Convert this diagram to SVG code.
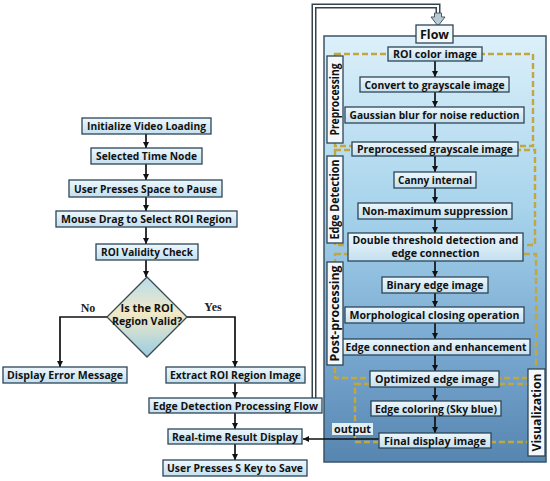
<svg xmlns="http://www.w3.org/2000/svg" width="550" height="481" viewBox="0 0 550 481">
<defs>
<linearGradient id="gBox" x1="0" y1="0" x2="0" y2="1"><stop offset="0" stop-color="#eef7fc"/><stop offset="1" stop-color="#c4e0ef"/></linearGradient>
<linearGradient id="gCont" x1="0" y1="0" x2="0" y2="1"><stop offset="0" stop-color="#dcf0fa"/><stop offset="0.4" stop-color="#a8d4ec"/><stop offset="0.72" stop-color="#7aaad2"/><stop offset="1" stop-color="#5686b0"/></linearGradient>
<linearGradient id="gDia" x1="0" y1="0" x2="0" y2="1"><stop offset="0" stop-color="#b8dcec"/><stop offset="0.45" stop-color="#f3e9c6"/><stop offset="1" stop-color="#98cde4"/></linearGradient>
<marker id="ah" viewBox="0 0 10 10" refX="10" refY="5" markerWidth="6" markerHeight="6" markerUnits="userSpaceOnUse" orient="auto"><path d="M0,0 L10,5 L0,10 Z" fill="#111"/></marker>
</defs>
<style>
.box{fill:url(#gBox);stroke:#2c4658;stroke-width:1.3}
.lab{fill:#f4f8fa;stroke:#2c4658;stroke-width:1.3}
.t{font-family:"Open Sans","DejaVu Sans",sans-serif;font-weight:bold;font-size:11px;fill:#111;text-anchor:middle}
.t2{font-size:9.8px}
.yn{font-family:"Liberation Serif",serif;font-weight:bold;font-size:12px;fill:#222;text-anchor:middle}
.ar{fill:none;stroke:#111;stroke-width:1.7;marker-end:url(#ah)}
.dash{fill:none;stroke:#c2a640;stroke-width:2.4;stroke-dasharray:6 3}
</style>
<rect width="550" height="481" fill="#ffffff"/>

<g id="container">
<rect x="324" y="36" width="222" height="426" fill="url(#gCont)" stroke="#3a5468" stroke-width="1.5"/>
</g>

<g id="groups">
<rect class="dash" x="335" y="54" width="198" height="92"/>
<rect class="dash" x="335" y="150" width="200" height="95"/>
<rect class="dash" x="335" y="254" width="201" height="124"/>
<rect class="dash" x="355" y="384" width="181" height="58"/>
</g>

<g id="connectors">
<path class="ar" d="M146,134 V148"/>
<path class="ar" d="M146,164 V180"/>
<path class="ar" d="M146,197 V211"/>
<path class="ar" d="M146,227 V244"/>
<path class="ar" d="M146,260 V277"/>
<path class="ar" d="M107,317 H60 V367"/>
<path class="ar" d="M187,317 H235 V367"/>
<path class="ar" d="M235,383 V398"/>
<path class="ar" d="M235,413 V429"/>
<path class="ar" d="M235,444 V460"/>
<path class="ar" d="M379,439 H303"/>
<path d="M314,398 V6 H438 V16" fill="none" stroke="#34434e" stroke-width="5"/>
<path d="M314,398 V6 H438 V16" fill="none" stroke="#ffffff" stroke-width="2"/>
<polygon points="434.5,13 441.5,13 441.5,17 445,17 438,26 431,17 434.5,17" fill="#b8cad4" stroke="#4a5a66" stroke-width="1"/>
<path class="ar" d="M435,61 V77"/>
<path class="ar" d="M435,92 V107"/>
<path class="ar" d="M435,123 V142"/>
<path class="ar" d="M435,156 V172"/>
<path class="ar" d="M435,188 V203"/>
<path class="ar" d="M435,219 V233"/>
<path class="ar" d="M435,261 V277"/>
<path class="ar" d="M435,293 V307"/>
<path class="ar" d="M435,323 V339"/>
<path class="ar" d="M435,355 V371"/>
<path class="ar" d="M435,387 V401"/>
<path class="ar" d="M435,416 V433"/>
</g>

<g id="n1"><rect class="box" x="82" y="118" width="129" height="16"/><text class="t" x="146.5" y="130" textLength="119" lengthAdjust="spacingAndGlyphs">Initialize Video Loading</text></g>
<g id="n2"><rect class="box" x="91" y="148" width="111" height="16"/><text class="t" x="146.5" y="160" textLength="101" lengthAdjust="spacingAndGlyphs">Selected Time Node</text></g>
<g id="n3"><rect class="box" x="69" y="180" width="153" height="17"/><text class="t" x="145.5" y="192.5" textLength="143" lengthAdjust="spacingAndGlyphs">User Presses Space to Pause</text></g>
<g id="n4"><rect class="box" x="56" y="211" width="181" height="16"/><text class="t" x="146.5" y="223" textLength="171" lengthAdjust="spacingAndGlyphs">Mouse Drag to Select ROI Region</text></g>
<g id="n5"><rect class="box" x="96" y="244" width="102" height="16"/><text class="t" x="147" y="256" textLength="92" lengthAdjust="spacingAndGlyphs">ROI Validity Check</text></g>
<g id="n6"><polygon points="147,277 187,317 147,357 107,317" fill="url(#gDia)" stroke="#3a4a50" stroke-width="1.3"/><text class="t t2"><tspan x="147" y="311.5" textLength="53" lengthAdjust="spacingAndGlyphs">Is the ROI</tspan><tspan x="147" y="325" textLength="70" lengthAdjust="spacingAndGlyphs">Region Valid?</tspan></text></g>
<text class="yn" x="88" y="312">No</text>
<text class="yn" x="213" y="311">Yes</text>
<g id="n7"><rect class="box" x="3" y="367" width="124" height="16"/><text class="t" x="65" y="379" textLength="116" lengthAdjust="spacingAndGlyphs">Display Error Message</text></g>
<g id="n8"><rect class="box" x="166" y="367" width="139" height="16"/><text class="t" x="235.5" y="379" textLength="131" lengthAdjust="spacingAndGlyphs">Extract ROI Region Image</text></g>
<g id="n9"><rect class="box" x="149" y="398" width="173" height="15"/><text class="t" x="235.5" y="409.5" textLength="165" lengthAdjust="spacingAndGlyphs">Edge Detection Processing Flow</text></g>
<g id="n10"><rect class="box" x="168" y="429" width="134" height="15"/><text class="t" x="235" y="440.5" textLength="126" lengthAdjust="spacingAndGlyphs">Real-time Result Display</text></g>
<g id="n11"><rect class="box" x="163" y="460" width="144" height="16"/><text class="t" x="235" y="472" textLength="136" lengthAdjust="spacingAndGlyphs">User Presses S Key to Save</text></g>

<g id="flow"><rect class="lab" x="416" y="25" width="37" height="18"/><text class="t" x="434.5" y="38.5" style="font-size:13px" textLength="29" lengthAdjust="spacingAndGlyphs">Flow</text></g>
<g id="r1"><rect class="box" x="388" y="47" width="94" height="14"/><text class="t" x="435" y="58" textLength="84" lengthAdjust="spacingAndGlyphs">ROI color image</text></g>
<g id="r2"><rect class="box" x="360" y="77" width="149" height="15"/><text class="t" x="434.5" y="88.5" textLength="140" lengthAdjust="spacingAndGlyphs">Convert to grayscale image</text></g>
<g id="r3"><rect class="box" x="345" y="107" width="179" height="16"/><text class="t" x="434.5" y="119" textLength="170" lengthAdjust="spacingAndGlyphs">Gaussian blur for noise reduction</text></g>
<g id="r4"><rect class="box" x="352" y="142" width="166" height="14"/><text class="t" x="435" y="153" textLength="156" lengthAdjust="spacingAndGlyphs">Preprocessed grayscale image</text></g>
<g id="r5"><rect class="box" x="394" y="172" width="82" height="16"/><text class="t" x="435" y="184" textLength="74" lengthAdjust="spacingAndGlyphs">Canny internal</text></g>
<g id="r6"><rect class="box" x="358" y="203" width="154" height="16"/><text class="t" x="435" y="215" textLength="146" lengthAdjust="spacingAndGlyphs">Non-maximum suppression</text></g>
<g id="r7"><rect class="box" x="348" y="233" width="175" height="28"/><text class="t t2"><tspan x="435.5" y="243.5" textLength="166" lengthAdjust="spacingAndGlyphs">Double threshold detection and</tspan><tspan x="435.5" y="257" textLength="88" lengthAdjust="spacingAndGlyphs">edge connection</tspan></text></g>
<g id="r8"><rect class="box" x="382" y="277" width="106" height="16"/><text class="t" x="435" y="289" textLength="97" lengthAdjust="spacingAndGlyphs">Binary edge image</text></g>
<g id="r9"><rect class="box" x="345" y="307" width="179" height="16"/><text class="t" x="434.5" y="319" textLength="170" lengthAdjust="spacingAndGlyphs">Morphological closing operation</text></g>
<g id="r10"><rect class="box" x="342" y="339" width="188" height="16"/><text class="t" x="436" y="351" textLength="181" lengthAdjust="spacingAndGlyphs">Edge connection and enhancement</text></g>
<g id="r11"><rect class="box" x="370" y="371" width="129" height="16"/><text class="t" x="434.5" y="383" textLength="119" lengthAdjust="spacingAndGlyphs">Optimized edge image</text></g>
<g id="r12"><rect class="box" x="371" y="401" width="130" height="15"/><text class="t" x="436" y="412.5" textLength="122" lengthAdjust="spacingAndGlyphs">Edge coloring (Sky blue)</text></g>
<g id="r13"><rect class="box" x="379" y="433" width="112" height="15"/><text class="t" x="435" y="444.5" textLength="102" lengthAdjust="spacingAndGlyphs">Final display image</text></g>

<g id="output"><rect x="332" y="423" width="41" height="12" fill="#e2eef4"/><text class="t" x="352.5" y="433" textLength="37" lengthAdjust="spacingAndGlyphs">output</text></g>

<g id="lab-pre"><rect class="lab" x="327" y="56" width="16" height="87"/><text class="t" transform="translate(339,99.5) rotate(-90)" x="0" y="0" style="font-size:11.5px" textLength="72" lengthAdjust="spacingAndGlyphs">Preprocessing</text></g>
<g id="lab-edge"><rect class="lab" x="327" y="156" width="16" height="87"/><text class="t" transform="translate(339,199.5) rotate(-90)" x="0" y="0" style="font-size:11.5px" textLength="80" lengthAdjust="spacingAndGlyphs">Edge Detection</text></g>
<g id="lab-post"><rect class="lab" x="327" y="262" width="16" height="103"/><text class="t" transform="translate(339,313.5) rotate(-90)" x="0" y="0" style="font-size:11.5px" textLength="96" lengthAdjust="spacingAndGlyphs">Post-processing</text></g>
<g id="lab-vis"><rect class="lab" x="528" y="369" width="17" height="87"/><text class="t" transform="translate(540.5,412.5) rotate(-90)" x="0" y="0" style="font-size:11.5px" textLength="78" lengthAdjust="spacingAndGlyphs">Visualization</text></g>
</svg>
